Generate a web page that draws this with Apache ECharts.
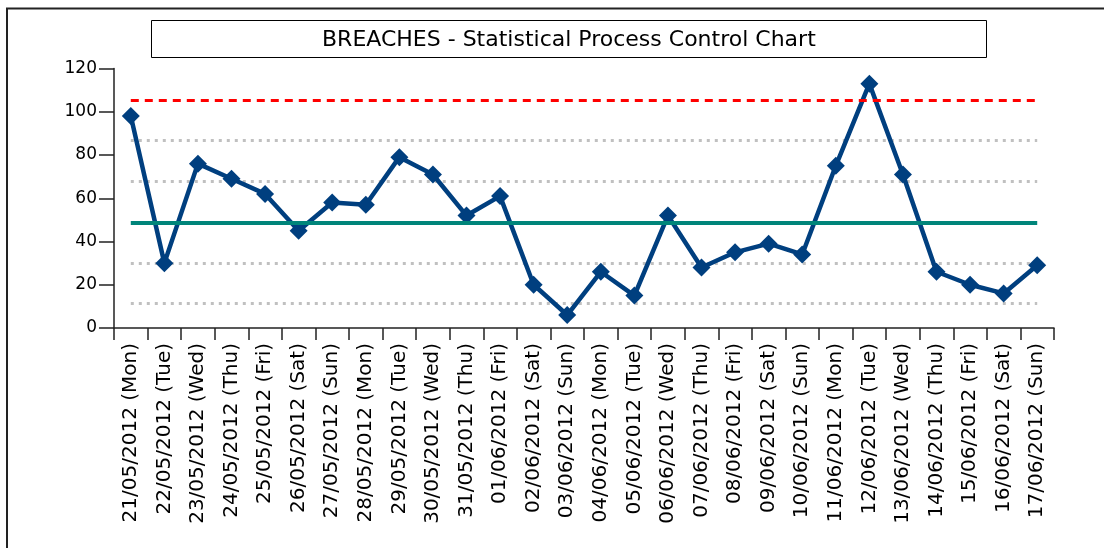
<!DOCTYPE html>
<html>
<head>
<meta charset="utf-8">
<script src="https://cdn.jsdelivr.net/npm/echarts@6/dist/echarts.min.js"></script>
<style>
  html, body { margin: 0; padding: 0; background: #fff; }
  #main { width: 1104px; height: 548px; }
</style>
</head>
<body>
<div id="main"></div>
<script>
// dates on the x axis
const categories = [
  '21/05/2012 (Mon)', '22/05/2012 (Tue)', '23/05/2012 (Wed)', '24/05/2012 (Thu)',
  '25/05/2012 (Fri)', '26/05/2012 (Sat)', '27/05/2012 (Sun)', '28/05/2012 (Mon)',
  '29/05/2012 (Tue)', '30/05/2012 (Wed)', '31/05/2012 (Thu)', '01/06/2012 (Fri)',
  '02/06/2012 (Sat)', '03/06/2012 (Sun)', '04/06/2012 (Mon)', '05/06/2012 (Tue)',
  '06/06/2012 (Wed)', '07/06/2012 (Thu)', '08/06/2012 (Fri)', '09/06/2012 (Sat)',
  '10/06/2012 (Sun)', '11/06/2012 (Mon)', '12/06/2012 (Tue)', '13/06/2012 (Wed)',
  '14/06/2012 (Thu)', '15/06/2012 (Fri)', '16/06/2012 (Sat)', '17/06/2012 (Sun)'
];
// breaches per day
const breaches = [98, 30, 76, 69, 62, 45, 58, 57, 79, 71, 52, 61, 20, 6, 26, 15,
  52, 28, 35, 39, 34, 75, 113, 71, 26, 20, 16, 29];
// control lines
const meanValue = 48.6;
const upperLimit = 105.4;
const sigmaLines = [86.9, 67.9, 30.1, 11.3];
// y axis
const yMin = 0, yMax = 120, yStep = 20;

const first = categories[0];
const last = categories[categories.length - 1];
const hline = (v, style) => [{ coord: [first, v], lineStyle: style }, { coord: [last, v] }];

let myChart = echarts.init(document.getElementById('main'));
let option = {
  animation: false,
  backgroundColor: '#ffffff',
  textStyle: { fontFamily: 'DejaVu Sans' },
  title: {
    text: 'BREACHES - Statistical Process Control Chart',
    left: 151,
    top: 20,
    padding: [9, 171, 7, 171],
    borderWidth: 1,
    borderColor: '#000',
    textStyle: { fontFamily: 'DejaVu Sans', fontSize: 22, fontWeight: 'normal', color: '#000', lineHeight: 22 }
  },
  graphic: [
    {
      type: 'polyline',
      shape: { points: [[7, 548], [7, 8.5], [1104, 8.5]] },
      style: { stroke: '#222', lineWidth: 2, fill: null },
      silent: true
    }
  ],
  grid: { left: 114, right: 50, top: 68.5, bottom: 220 },
  xAxis: {
    type: 'category',
    data: categories,
    boundaryGap: true,
    axisLine: { lineStyle: { color: '#222', width: 1.5 } },
    axisTick: { show: true, length: 12, interval: 0, lineStyle: { color: '#222', width: 1.5 } },
    axisLabel: { rotate: 90, interval: 0, margin: 15, fontSize: 20, color: '#000', fontFamily: 'DejaVu Sans' },
    splitLine: { show: false }
  },
  yAxis: {
    type: 'value',
    min: yMin,
    max: yMax,
    interval: yStep,
    axisLine: { show: true, lineStyle: { color: '#222', width: 1.5 } },
    axisTick: { show: true, length: 15, lineStyle: { color: '#222', width: 1.5 } },
    axisLabel: { margin: 17, fontSize: 17, color: '#000', fontFamily: 'DejaVu Sans' },
    splitLine: { show: false }
  },
  series: [
    {
      // carries the grey sigma lines underneath the data line
      name: 'sigma',
      type: 'line',
      data: breaches,
      z: 1,
      silent: true,
      showSymbol: false,
      lineStyle: { opacity: 0 },
      markLine: {
        silent: true,
        symbol: 'none',
        z: 1,
        label: { show: false },
        data: sigmaLines.map(v => hline(v, { color: '#c0c0c0', width: 3, type: [3, 5] }))
      }
    },
    {
      name: 'Breaches',
      type: 'line',
      data: breaches,
      z: 3,
      symbol: 'diamond',
      symbolSize: 18,
      lineStyle: { color: '#003f7f', width: 4.5 },
      itemStyle: { color: '#003f7f' },
      markLine: {
        silent: true,
        symbol: 'none',
        z: 5,
        label: { show: false },
        data: [
          hline(meanValue, { color: '#00857a', width: 4, type: 'solid' }),
          hline(upperLimit, { color: '#ff0000', width: 3, type: [8, 6] })
        ]
      }
    }
  ]
};
myChart.setOption(option);
</script>
</body>
</html>
